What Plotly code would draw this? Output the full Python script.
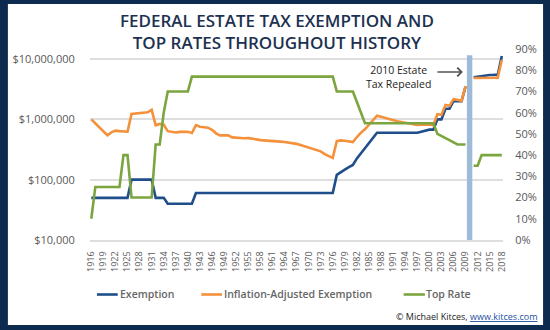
import plotly.graph_objects as go

# ---- data -----------------------------------------------------------------
years = list(range(1916, 2019))

# nominal exemption amount ($), no estate tax in 2010
exemption = [
    50000, 50000, 50000, 50000, 50000, 50000, 50000, 50000, 50000, 50000,          # 1916-1925
    100000, 100000, 100000, 100000, 100000, 100000,                                # 1926-1931
    50000, 50000, 50000,                                                           # 1932-1934
    40000, 40000, 40000, 40000, 40000, 40000, 40000,                               # 1935-1941
    60000, 60000, 60000, 60000, 60000, 60000, 60000, 60000, 60000, 60000,          # 1942-1951
    60000, 60000, 60000, 60000, 60000, 60000, 60000, 60000, 60000, 60000,          # 1952-1961
    60000, 60000, 60000, 60000, 60000, 60000, 60000, 60000, 60000, 60000,          # 1962-1971
    60000, 60000, 60000, 60000, 60000,                                             # 1972-1976
    120000, 134000, 147000, 161000, 175000, 225000, 275000, 325000, 400000, 500000,  # 1977-1986
    600000, 600000, 600000, 600000, 600000, 600000, 600000, 600000, 600000, 600000,  # 1987-1996
    600000, 625000, 650000, 675000, 675000,                                        # 1997-2001
    1000000, 1000000, 1500000, 1500000, 2000000, 2000000, 2000000, 3500000,        # 2002-2009
    None,                                                                          # 2010
    5000000, 5120000, 5250000, 5340000, 5430000, 5450000, 5490000, 11180000,       # 2011-2018
]

# exemption in constant dollars
inflation_adjusted = [
    1000000, 852000, 722000, 630000, 545000, 609000, 649000, 638000, 638000, 623000,     # 1916-1925
    1232000, 1253000, 1275000, 1275000, 1306000, 1435000, 796000, 839000, 814000, 637000,  # 1926-1935
    628000, 606000, 619000, 628000, 623000, 593000, 803000, 756000, 744000, 727000,      # 1936-1945
    671000, 587000, 543000, 550000, 543000, 503000, 494000, 490000, 486000, 488000,      # 1946-1955
    481000, 466000, 453000, 450000, 442000, 438000, 433000, 428000, 422000, 415000,      # 1956-1965
    404000, 392000, 376000, 357000, 337000, 323000, 313000, 295000, 265000, 243000,      # 1966-1975
    230000, 434000, 448000, 442000, 426000, 420000, 509000, 602000, 682000, 811000,      # 1976-1985
    995000, 1152000, 1106000, 1055000, 1001000, 961000, 933000, 906000, 883000, 850000,  # 1986-1995
    825000, 805000, 815000, 820000, 820000, 800000,                                      # 1996-2001
    1212000, 1185000, 1732000, 1675000, 2164000, 2104000, 2026000, 3559000,              # 2002-2009
    None,                                                                                # 2010
    4849000, 4864000, 4914000, 4920000, 4997000, 4953000, 4885000, 9711000,              # 2011-2018
]

# top marginal estate tax rate (%)
top_rate = [
    10, 25, 25, 25, 25, 25, 25, 25, 40, 40,      # 1916-1925
    20, 20, 20, 20, 20, 20, 45, 45, 60, 70,      # 1926-1935
    70, 70, 70, 70, 70, 77, 77, 77, 77, 77,      # 1936-1945
    77, 77, 77, 77, 77, 77, 77, 77, 77, 77,      # 1946-1955
    77, 77, 77, 77, 77, 77, 77, 77, 77, 77,      # 1956-1965
    77, 77, 77, 77, 77, 77, 77, 77, 77, 77,      # 1966-1975
    77, 70, 70, 70, 70, 70, 65, 60, 55, 55,      # 1976-1985
    55, 55, 55, 55, 55, 55, 55, 55, 55, 55,      # 1986-1995
    55, 55, 55, 55, 55, 55, 50, 49, 48, 47,      # 1996-2005
    46, 45, 45, 45, None, 35, 35, 40, 40, 40,    # 2006-2015
    40, 40, 40,                                  # 2016-2018
]

repeal_year = [2010]
repeal_height = [87]

tick_years = list(range(1916, 2019, 3))
dollar_ticks = [1e4, 1e5, 1e6, 1e7]
dollar_labels = ["$10,000", "$100,000", "$1,000,000", "$10,000,000"]
rate_ticks = list(range(0, 91, 10))
rate_labels = [f"{r}%" for r in rate_ticks]

series_names = ["Exemption", "Inflation-Adjusted Exemption", "Top Rate"]
series_colors = ["#1f4e8b", "#f4913a", "#7ba53f"]

# ---- layout geometry (pixels) ---------------------------------------------
W, H = 550, 330
L, R, T, B = 86, 503.5, 49, 240


def px_x(p):
    return (p - L) / (R - L)


def px_y(p):
    return (B - p) / (B - T)


FONT = "Open Sans"
NAVY = "#0d2b4e"
GRID = "#dedede"
TICK = "#595959"

fig = go.Figure()

fig.add_trace(go.Bar(
    x=repeal_year, y=repeal_height, yaxis="y2", width=1.35,
    marker=dict(color="#9dbad6", line=dict(width=0)),
    showlegend=False, hoverinfo="skip",
))
fig.add_trace(go.Scatter(
    x=years, y=exemption, mode="lines", name=series_names[0],
    line=dict(color=series_colors[0], width=2.6), showlegend=False,
))
fig.add_trace(go.Scatter(
    x=years, y=inflation_adjusted, mode="lines", name=series_names[1],
    line=dict(color=series_colors[1], width=2.6), showlegend=False,
))
fig.add_trace(go.Scatter(
    x=years, y=top_rate, mode="lines", name=series_names[2], yaxis="y2",
    line=dict(color=series_colors[2], width=2.6), showlegend=False,
))

shapes = [
    # white card inside the navy frame
    dict(type="rect", xref="paper", yref="paper", layer="below",
         x0=px_x(3), x1=px_x(544), y0=px_y(325), y1=px_y(4),
         fillcolor="white", line=dict(width=0)),
]

# legend row: short line key followed by its label
legend_keys = [(93, 114, 114), (198.5, 219.5, 219), (403, 424.5, 423.5)]
legend_font = dict(family=FONT, size=10.5, color="#666666", weight=600)
for (k0, k1, tx), name, color in zip(legend_keys, series_names, series_colors):
    shapes.append(dict(type="line", xref="paper", yref="paper",
                       x0=px_x(k0), x1=px_x(k1), y0=px_y(294.5), y1=px_y(294.5),
                       line=dict(color=color, width=2.6)))
    fig.add_annotation(text=name, xref="paper", yref="paper",
                       x=px_x(tx), y=px_y(294), showarrow=False,
                       xanchor="left", yanchor="middle", font=legend_font)

fig.update_layout(
    width=W, height=H,
    margin=dict(l=L, r=W - R, t=T, b=H - B, pad=0),
    paper_bgcolor=NAVY,
    plot_bgcolor="white",
    font=dict(family=FONT, color=TICK),
    showlegend=False,
    barmode="overlay",
    xaxis=dict(
        range=[1915.68, 2018.3],
        tickmode="array", tickvals=tick_years, ticktext=[str(y) for y in tick_years],
        tickangle=-90, tickfont=dict(size=9, color=TICK),
        ticks="outside", ticklen=6, tickcolor="rgba(0,0,0,0)",
        showgrid=False, zeroline=False,
        showline=True, linecolor=GRID, linewidth=1.5,
    ),
    yaxis=dict(
        type="log", range=[4, 7.166],
        tickmode="array", tickvals=dollar_ticks, ticktext=dollar_labels,
        tickfont=dict(size=11, color=TICK),
        ticks="outside", ticklen=12, tickcolor="rgba(0,0,0,0)",
        showgrid=True, gridcolor=GRID, gridwidth=1.5, zeroline=False,
    ),
    yaxis2=dict(
        overlaying="y", side="right", range=[0, 90],
        tickmode="array", tickvals=rate_ticks, ticktext=rate_labels,
        tickfont=dict(size=11, color=TICK),
        ticks="outside", ticklen=9, tickcolor="rgba(0,0,0,0)",
        showgrid=False, zeroline=False,
    ),
    shapes=shapes,
)

fig.add_annotation(
    text="FEDERAL ESTATE TAX EXEMPTION AND<br>TOP RATES THROUGHOUT HISTORY",
    xref="paper", yref="paper", x=px_x(275), y=px_y(32),
    showarrow=False, xanchor="center", yanchor="middle", align="center",
    font=dict(family=FONT, size=17, color="#1c3150", weight=600),
)

fig.add_annotation(text="2010 Estate<br>Tax Repealed", xref="paper", yref="paper",
                   x=px_x(398), y=px_y(77), showarrow=False,
                   font=dict(family=FONT, size=10.5, color="#222222"),
                   xanchor="center", yanchor="middle", align="center")
fig.add_annotation(text="", xref="paper", yref="paper",
                   x=px_x(463), y=px_y(72), ax=-27, ay=0,
                   showarrow=True, arrowhead=4, arrowsize=1.2, arrowwidth=1.4,
                   arrowcolor="#555555", standoff=0)

fig.add_annotation(
    text="© Michael Kitces, <span style='color:#1a4fa0'><u>www.kitces.com</u></span>",
    xref="paper", yref="paper", x=px_x(541), y=px_y(316.5),
    showarrow=False, xanchor="right", yanchor="middle",
    font=dict(family=FONT, size=9, color="#222222"),
)

fig.write_html("out.html")
